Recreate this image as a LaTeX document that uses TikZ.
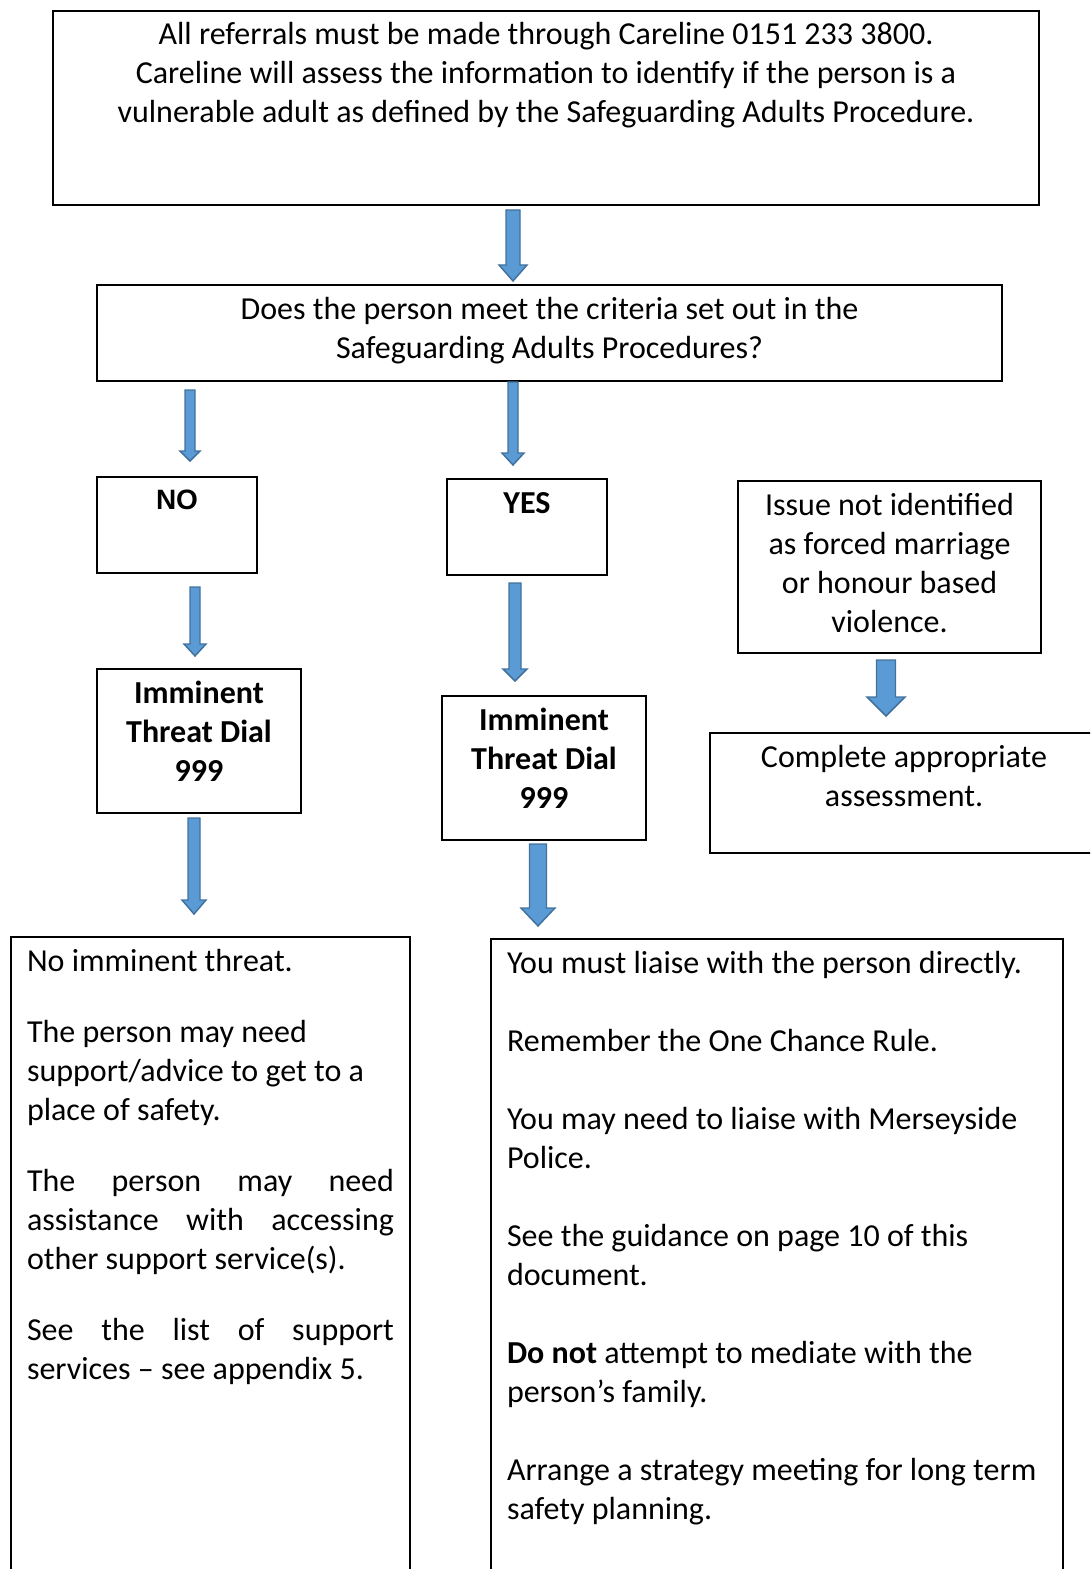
\documentclass[tikz,border=0pt]{standalone}
\usepackage{fontspec}
\setmainfont{Carlito}
\newfontfamily\arialfont{Liberation Sans}
\usetikzlibrary{calc}

\definecolor{arrowfill}{HTML}{5B9BD5}
\definecolor{arrowline}{HTML}{41719C}

% one pixel of the page
\newdimen\pxu \pxu=0.75pt
% width, height, side pad, top pad, text
\newcommand\boxbody[5]{\parbox[t][#2\pxu][t]{\dimexpr#1\pxu-#3\pxu*2\relax}{\vspace*{#4\pxu}\leavevmode\strut#5}}

\tikzset{
  box/.style={draw, line width=1.5pt, anchor=north west, inner ysep=0pt, inner xsep=0pt,
    font=\fontsize{24}{29.25}\selectfont},
  blockarrow/.style n args={3}{draw=arrowline, fill=arrowfill, line width=1.1pt,
    to path={let \p1=(\tikztostart), \p2=(\tikztotarget) in
      ({\x1-#1*0.375pt},\y1) -- ({\x1-#1*0.375pt},{\y2+#3*0.75pt})
      -- ({\x1-#2*0.375pt},{\y2+#3*0.75pt}) -- (\x1,\y2)
      -- ({\x1+#2*0.375pt},{\y2+#3*0.75pt}) -- ({\x1+#1*0.375pt},{\y2+#3*0.75pt})
      -- ({\x1+#1*0.375pt},\y1) -- cycle}},
}

\begin{document}
\begin{tikzpicture}[x=0.75pt, y=-0.75pt]

  \useasboundingbox (0,0) rectangle (1090,1569);
  \clip (0,0) rectangle (1090,1569);

  % --- top of the chart ---
  \node[box] (top) at (52,10) {\boxbody{986}{194}{0}{6.7}{\centering
    All referrals must be made through Careline 0151 233 3800.\\
    Careline will assess the information to identify if the person is a\\
    vulnerable adult as defined by the Safeguarding Adults Procedure.}};
  \node[box] (crit) at (96,284) {\boxbody{905}{96}{0}{7.7}{\centering
    Does the person meet the criteria set out in the\\
    Safeguarding Adults Procedures?}};

  % --- answers ---
  \node[box] (no) at (96,476) {\boxbody{160}{96}{0}{5.2}{\centering
    {\arialfont\fontsize{21}{29.25}\selectfont\bfseries NO}}};
  \node[box] (yes) at (446,478) {\boxbody{160}{96}{0}{6.7}{\centering\bfseries YES}};
  \node[box] (issue) at (737,480) {\boxbody{303}{172}{0}{6.7}{\centering
    Issue not identified\\as forced marriage\\or honour based\\violence.}};

  \node[box] (immL) at (96,668) {\boxbody{204}{144}{0}{6.7}{\centering\bfseries
    Imminent\\Threat Dial\\999}};
  \node[box] (immM) at (441,695) {\boxbody{204}{144}{0}{6.7}{\centering\bfseries
    Imminent\\Threat Dial\\999}};
  \node[box] (complete) at (709,732) {\boxbody{388}{120}{0}{6.7}{\centering
    Complete appropriate\\assessment.}};

  % --- what to do ---
  \node[box, inner xsep=16\pxu] (nothreat) at (10,936) {\boxbody{399}{650}{16}{6.7}{\raggedright
    No imminent threat.\par\vspace{24pt}
    The person may need\\support/advice to get to a\\place of safety.\par\vspace{24pt}
    \makebox[\linewidth][s]{The person may need}\\
    \makebox[\linewidth][s]{assistance with accessing}\\
    other support service(s).\par\vspace{24pt}
    \makebox[\linewidth][s]{See the list of support}\\
    services – see appendix 5.}};
  \node[box, inner xsep=16\pxu] (liaise) at (490,938) {\boxbody{572}{650}{16}{7.4}{\raggedright
    You must liaise with the person directly.\par\vspace{29.25pt}
    Remember the One Chance Rule.\par\vspace{29.25pt}
    You may need to liaise with Merseyside\\Police.\par\vspace{29.25pt}
    See the guidance on page 10 of this\\document.\par\vspace{29.25pt}
    \textbf{Do not} attempt to mediate with the\\person’s family.\par\vspace{29.25pt}
    Arrange a strategy meeting for long term\\safety planning.}};

  % --- block arrows ---
  \draw[blockarrow={14}{28}{16}] ($(top.south)+(-33,4)$) to ($(crit.north)+(0,-3)$);
  \draw[blockarrow={10}{20}{10}] ($(crit.south)+(-359.5,8)$) to ($(no.north)+(0,-15)$);
  \draw[blockarrow={10}{22}{12}] ($(crit.south)+(-36.5,0)$) to ($(yes.north)+(0,-13)$);
  \draw[blockarrow={10}{22}{12}] ($(no.south)+(18,13)$) to ($(immL.north)+(0,-12)$);
  \draw[blockarrow={12}{24}{12}] ($(yes.south)+(-12,7)$) to ($(immM.north)+(0,-14)$);
  \draw[blockarrow={19}{38}{19}] ($(issue.south)+(-3.5,6)$) to ($(complete.north)+(0,-16)$);
  \draw[blockarrow={12}{24}{14}] ($(immL.south)+(-5,4)$) to ($(nothreat.north)+(0,-22)$);
  \draw[blockarrow={17}{34}{18}] ($(immM.south)+(-6,3)$) to ($(liaise.north)+(0,-12)$);

\end{tikzpicture}
\end{document}
